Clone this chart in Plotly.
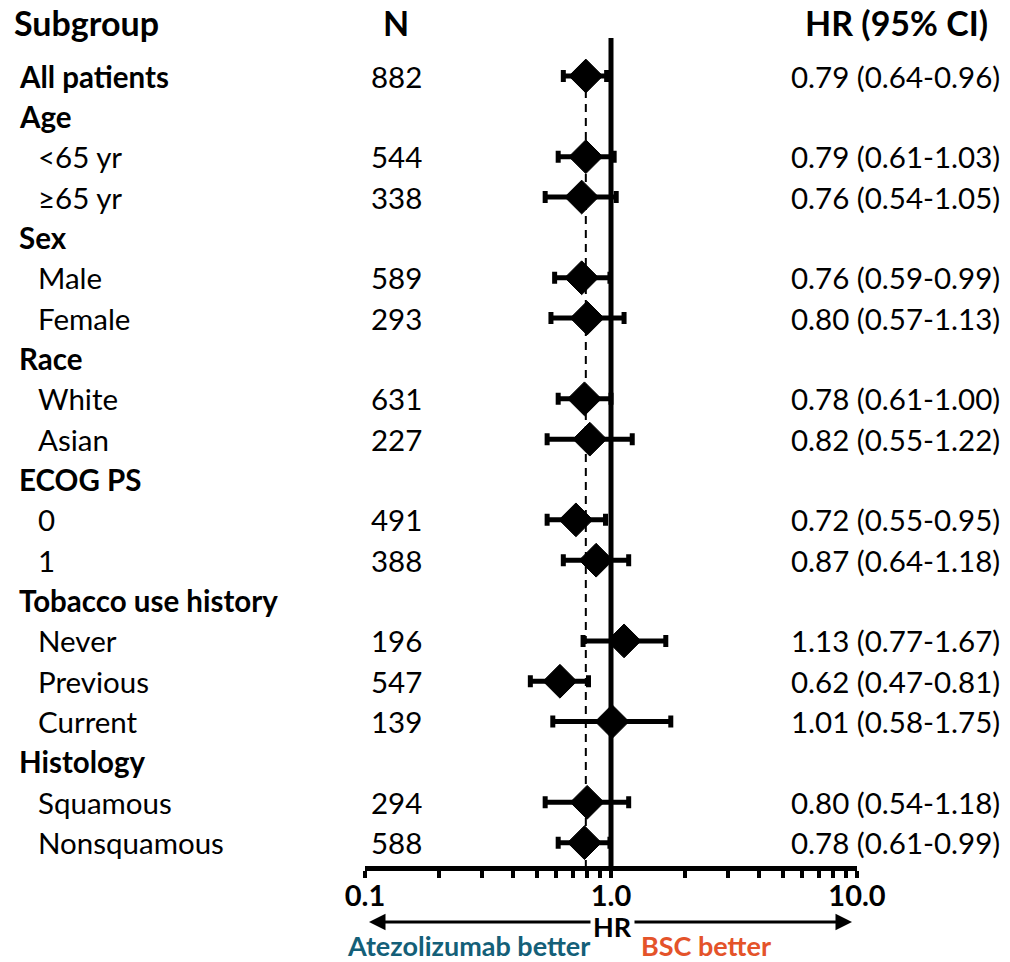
import plotly.graph_objects as go

# ---- data -------------------------------------------------------------
labels = ["All patients", "Age", "<65 yr", "≥65 yr", "Sex", "Male", "Female",
          "Race", "White", "Asian", "ECOG PS", "0", "1",
          "Tobacco use history", "Never", "Previous", "Current",
          "Histology", "Squamous", "Nonsquamous"]
is_header = [True, True, False, False, True, False, False,
             True, False, False, True, False, False,
             True, False, False, False,
             True, False, False]
n_pts = [882, None, 544, 338, None, 589, 293, None, 631, 227, None, 491, 388,
         None, 196, 547, 139, None, 294, 588]
hr = [0.79, None, 0.79, 0.76, None, 0.76, 0.80, None, 0.78, 0.82, None, 0.72, 0.87,
      None, 1.13, 0.62, 1.01, None, 0.80, 0.78]
ci_low = [0.64, None, 0.61, 0.54, None, 0.59, 0.57, None, 0.61, 0.55, None, 0.55, 0.64,
          None, 0.77, 0.47, 0.58, None, 0.54, 0.61]
ci_high = [0.96, None, 1.03, 1.05, None, 0.99, 1.13, None, 1.00, 1.22, None, 0.95, 1.18,
           None, 1.67, 0.81, 1.75, None, 1.18, 0.99]
tick_vals = [0.1, 0.2, 0.3, 0.4, 0.5, 0.6, 0.7, 0.8, 0.9, 1,
             2, 3, 4, 5, 6, 7, 8, 9, 10]
tick_text = ["0.1", "", "", "", "", "", "", "", "", "1.0",
             "", "", "", "", "", "", "", "", "10.0"]

# ---- layout constants -------------------------------------------------
W, H = 1010, 962
FONT = "Lato"
TEAL = "#145f78"
ORANGE = "#e4532a"
ROW0_PX, ROW_STEP = 76, 40.35        # pixel position of the first row and row spacing
AXIS_PX = 866                        # pixel row of the HR axis line
X0_PX, X1_PX = 365, 857              # HR axis extent in pixels
HEAD_SIZE, ROW_SIZE = 34, 29.5


def row_of_px(py):
    return (py - ROW0_PX) / ROW_STEP


rows = list(range(len(labels)))
pts = [(r, h, lo, hi) for r, h, lo, hi in zip(rows, hr, ci_low, ci_high) if h is not None]

fig = go.Figure()

# reference line at HR = 1
fig.add_trace(go.Scatter(
    x=[1, 1], y=[row_of_px(38), row_of_px(AXIS_PX)], mode="lines",
    line=dict(color="black", width=5), hoverinfo="skip", showlegend=False))

# dashed line at the overall HR
fig.add_trace(go.Scatter(
    x=[hr[0], hr[0]], y=[0, row_of_px(AXIS_PX)], mode="lines",
    line=dict(color="black", width=2, dash="8px,6px"), hoverinfo="skip", showlegend=False))

# hazard ratios with 95% CIs
fig.add_trace(go.Scatter(
    x=[p[1] for p in pts], y=[p[0] for p in pts], mode="markers",
    marker=dict(symbol="diamond", size=26, color="black", line=dict(width=1, color="black")),
    error_x=dict(type="data", symmetric=False,
                 array=[p[3] - p[1] for p in pts],
                 arrayminus=[p[1] - p[2] for p in pts],
                 color="black", thickness=5, width=6),
    cliponaxis=False, hoverinfo="skip", showlegend=False))

ann = []
# column headers
hdr_row = row_of_px(22)
ann.append(dict(text="Subgroup", x=12 / W, xanchor="left", y=hdr_row,
                font=dict(size=HEAD_SIZE, weight="bold")))
ann.append(dict(text="N", x=396 / W, xanchor="center", y=hdr_row,
                font=dict(size=HEAD_SIZE, weight="bold")))
ann.append(dict(text="HR (95% CI)", x=990 / W, xanchor="right", y=hdr_row,
                font=dict(size=HEAD_SIZE, weight="bold")))

for r, lab, hd, n, h, lo, hi in zip(rows, labels, is_header, n_pts, hr, ci_low, ci_high):
    ann.append(dict(text=lab, x=(17 if hd else 36) / W, xanchor="left", y=r,
                    font=dict(size=ROW_SIZE, weight="bold" if hd else "normal")))
    if n is not None:
        ann.append(dict(text=str(n), x=396 / W, xanchor="center", y=r,
                        font=dict(size=ROW_SIZE)))
    if h is not None:
        ann.append(dict(text=f"{h:.2f} ({lo:.2f}-{hi:.2f})", x=1002 / W, xanchor="right",
                        y=r, font=dict(size=ROW_SIZE)))

for a in ann:
    a.update(xref="paper", yref="y", yanchor="middle", showarrow=False,
             font=dict(family=FONT, color="black", **a["font"]))

# direction arrows under the axis
ARROW_Y = 1 - 922 / H
ann.append(dict(text="HR", x=612 / W, y=1 - 926 / H, xref="paper", yref="paper",
                xanchor="center", yanchor="middle", showarrow=False,
                font=dict(family=FONT, size=27, weight="bold", color="black")))
ann.append(dict(text="", x=369 / W, y=ARROW_Y, xref="paper", yref="paper",
                ax=592 - 369, ay=0, axref="pixel", ayref="pixel", showarrow=True,
                arrowhead=2, arrowsize=1.1, arrowwidth=3, arrowcolor="black"))
ann.append(dict(text="", x=852 / W, y=ARROW_Y, xref="paper", yref="paper",
                ax=633 - 852, ay=0, axref="pixel", ayref="pixel", showarrow=True,
                arrowhead=2, arrowsize=1.1, arrowwidth=3, arrowcolor="black"))
ann.append(dict(text="Atezolizumab better", x=468 / W, y=1 - 945 / H, xref="paper",
                yref="paper", xanchor="center", yanchor="middle", showarrow=False,
                font=dict(family=FONT, size=27, weight="bold", color=TEAL)))
ann.append(dict(text="BSC better", x=706 / W, y=1 - 945 / H, xref="paper",
                yref="paper", xanchor="center", yanchor="middle", showarrow=False,
                font=dict(family=FONT, size=27, weight="bold", color=ORANGE)))

fig.update_layout(
    width=W, height=H, margin=dict(l=0, r=0, t=0, b=0, autoexpand=False),
    paper_bgcolor="white", plot_bgcolor="white",
    font=dict(family=FONT, color="black"),
    annotations=ann,
    xaxis=dict(type="log", range=[-1, 1], domain=[X0_PX / W, X1_PX / W],
               automargin=False,
               showgrid=False, zeroline=False, showline=True, linewidth=5,
               linecolor="black", ticks="outside", ticklen=7, tickwidth=4,
               tickcolor="black", tickvals=tick_vals, ticktext=tick_text,
               tickfont=dict(family=FONT, size=29, weight="bold", color="black"),
               ticklabelstandoff=-7),
    yaxis=dict(range=[row_of_px(AXIS_PX), row_of_px(0)], domain=[1 - AXIS_PX / H, 1],
               visible=False, automargin=False, showgrid=False, zeroline=False),
)

fig.write_html("out.html")
